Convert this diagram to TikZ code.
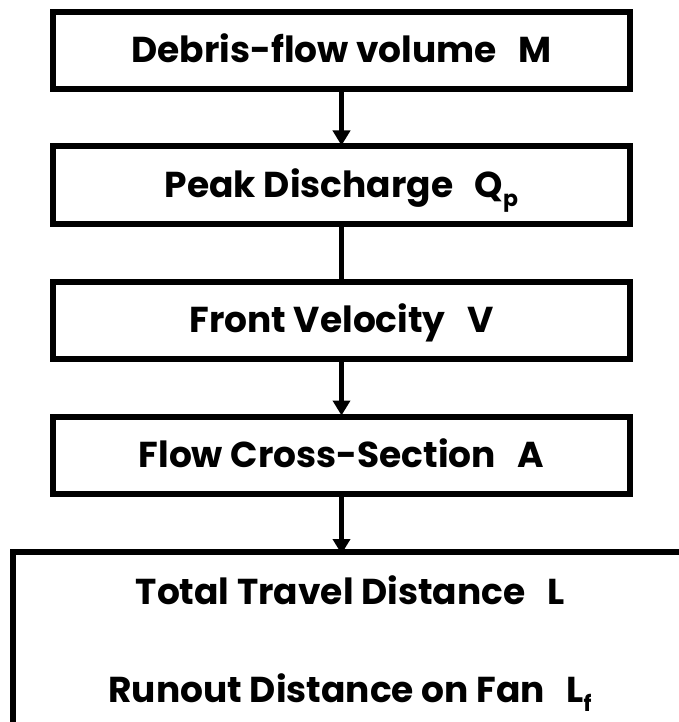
\documentclass[tikz,border=0pt]{standalone}
\usepackage{fontspec}
\setmainfont{Poppins}
\usetikzlibrary{arrows.meta}
\tikzset{
  txt/.style={font=\fontsize{36}{42}\selectfont\bfseries,
    text height=25pt, text depth=0pt},
  stage/.style={txt, draw, line width=6pt, minimum width=577pt, minimum height=77pt,
    inner sep=0pt, anchor=center},
  label/.style={txt, inner sep=0pt, anchor=center},
  flow/.style={line width=4.5pt, -{Triangle[width=17pt,length=15pt]}, shorten >=-2pt},
  link/.style={line width=4.5pt},
}
\newcommand{\gapvar}{\hspace{0.6em}}
% small lowered index after a variable letter
\newcommand{\idx}[1]{\raisebox{-9pt}{\fontsize{22}{24}\selectfont #1}}
\begin{document}
\begin{tikzpicture}[x=1pt,y=-1pt]
  \useasboundingbox (0,0) rectangle (678,722);
  \fill[white] (0,0) rectangle (678,722);
  \node[stage] (vol)   at (341.5,50.5) {Debris-flow volume\gapvar M};
  \node[stage] (peak)  at (341.5,185)  {Peak Discharge\gapvar Q\idx{p}};
  \node[stage] (vel)   at (341.5,320)  {Front Velocity\gapvar V};
  \node[stage] (area)  at (341.5,455)  {Flow Cross-Section\gapvar A};
  % open-ended result box running off the right and bottom
  \coordinate (resTop) at (341.5,552);
  \draw[line width=6pt, line join=miter] (13,740) -- (13,552) -- (700,552);
  \node[label] (total) at (350,592) {Total Travel Distance\gapvar L};
  \node[label] (runout) at (350,690) {Runout Distance on Fan\gapvar L\idx{f}};
  \draw[flow] (vol.south) -- (peak.north);
  \draw[link] (peak.south) -- (vel.north);
  \draw[flow] (vel.south) -- (area.north);
  \draw[flow] (area.south) -- (resTop);
\end{tikzpicture}
\end{document}
